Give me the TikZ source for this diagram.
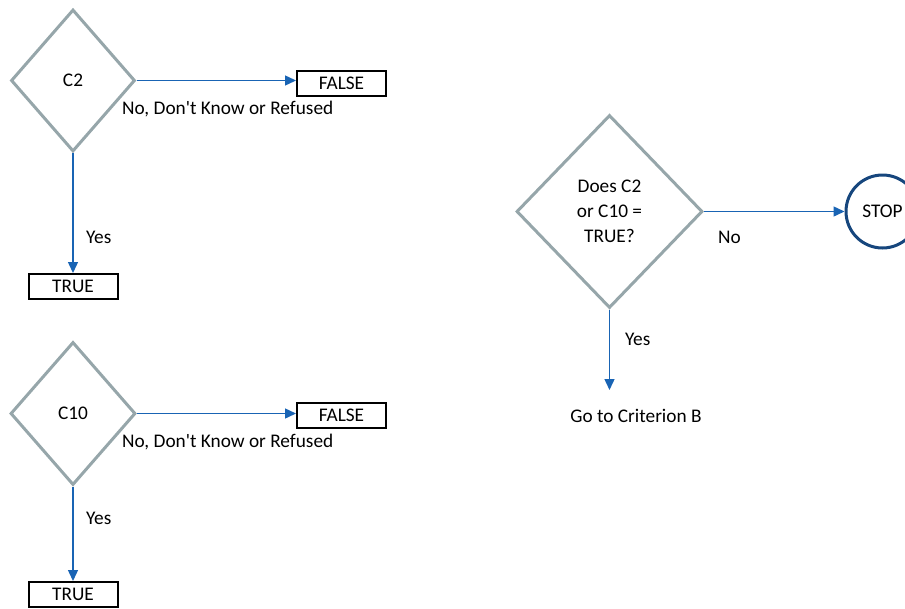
\documentclass[tikz,border=0pt]{standalone}
\usepackage{fontspec}
\setmainfont{Carlito}
\usetikzlibrary{shapes.geometric,arrows.meta}
\definecolor{diagray}{RGB}{150,166,170}
\definecolor{arrblue}{RGB}{25,100,180}
\definecolor{stopblue}{RGB}{22,70,125}
\tikzset{
  dia/.style={diamond, draw=diagray, line width=3pt, inner sep=0pt, align=center},
  tbox/.style={rectangle, draw=black, line width=2pt, minimum width=89pt, minimum height=25pt, inner sep=0pt},
  lbl/.style={inner sep=0pt, anchor=center},
  conn/.style={draw=arrblue, line width=1.4pt, -{Triangle[length=11pt,width=10pt]}},
}
\begin{document}
\begin{tikzpicture}[x=1pt,y=-1pt,font=\fontsize{19.3}{25}\selectfont]
\useasboundingbox (0,0) rectangle (905,608);
\clip (0,0) rectangle (905,608);
% C2 block
\node[dia, minimum width=124pt, minimum height=142pt] (c2) at (73,80.5) {C2};
\node[tbox] (f1) at (341.5,83) {FALSE};
\node[tbox] (t1) at (73,286.5) {TRUE};
\node[lbl, anchor=west] (n1) at (122,109) {No, Don\textquotesingle t Know or Refused};
\node[lbl, anchor=west] (y1) at (86,237) {Yes};
\draw[conn] (c2.east) -- (c2.east -| f1.west);
\draw[conn] (c2.south) -- (t1.north);
% C10 block
\node[dia, minimum width=125pt, minimum height=143pt] (c10) at (73,413.5) {C10};
\node[tbox] (f2) at (341.5,415.5) {FALSE};
\node[tbox] (t2) at (73,594.5) {TRUE};
\node[lbl, anchor=west] (n2) at (122,442) {No, Don\textquotesingle t Know or Refused};
\node[lbl, anchor=west] (y2) at (86,518) {Yes};
\draw[conn] (c10.east) -- (c10.east -| f2.west);
\draw[conn] (c10.south) -- (t2.north);
% Main decision
\node[dia, minimum width=186pt, minimum height=193pt] (dq) at (609.5,211.5) {Does C2\\or C10 =\\TRUE?};
\node[circle, draw=stopblue, line width=3pt, minimum size=73pt, inner sep=0pt] (stop) at (882.5,211.5) {STOP};
\node[lbl, anchor=west] (no) at (718,237) {No};
\node[lbl, anchor=west] (yes) at (625,339) {Yes};
\node[lbl] (goto) at (636,416) {Go to Criterion B};
\coordinate (gend) at (609.5,390);
\draw[conn] (dq.east) -- (stop.west);
\draw[conn] (dq.south) -- (gend);
\end{tikzpicture}
\end{document}
